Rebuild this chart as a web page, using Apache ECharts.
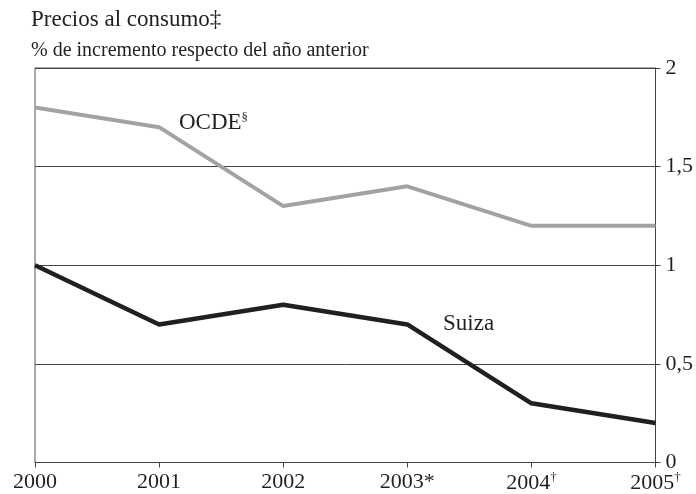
<!DOCTYPE html>
<html><head><meta charset="utf-8">
<script src="https://cdn.jsdelivr.net/npm/echarts@6/dist/echarts.min.js"></script>
<style>html,body{margin:0;padding:0;background:#fff}#c{width:696px;height:494px}</style>
</head><body><div id="c"></div>
<script>
const categories = ['2000','2001','2002','2003','2004','2005'];
const categorySuffix = ['','','','*','†','†'];
const ocde = [1.8, 1.7, 1.3, 1.4, 1.2, 1.2];
const suiza = [1.0, 0.7, 0.8, 0.7, 0.3, 0.2];
const yTicks = [0, 0.5, 1, 1.5, 2];

const chart = echarts.init(document.getElementById('c'));
const serif = '"Liberation Serif", "Times New Roman", serif';
const ink = '#231f20';
chart.setOption({
  animation: false,
  textStyle: {fontFamily: serif},
  grid: {left: 35, right: 39, top: 68, bottom: 29, show: true, borderColor: '#555', borderWidth: 1},
  xAxis: {
    type: 'category', data: categories, boundaryGap: false,
    axisLine: {lineStyle: {color: '#444', width: 1}},
    axisTick: {show: true, length: 5, interval: 0, lineStyle: {color: '#444'}},
    axisLabel: {
      interval: 0, showMinLabel: true, showMaxLabel: true,
      color: ink, fontSize: 22, fontFamily: serif, margin: 9,
      formatter: (v, i) => categorySuffix[i] === '†' ? '{a|' + v + '}{s|†}' : v + categorySuffix[i],
      rich: {a: {fontSize: 22, fontFamily: serif, color: ink}, s: {fontSize: 13, fontFamily: serif, color: ink, verticalAlign: 'top', padding: [0,0,10,0]}}
    },
    splitLine: {show: false}
  },
  yAxis: {
    type: 'value', position: 'right', min: yTicks[0], max: yTicks[yTicks.length-1], interval: 0.5,
    axisLine: {show: true, lineStyle: {color: '#444', width: 1}},
    axisTick: {show: true, length: 5, lineStyle: {color: '#444'}},
    axisLabel: {color: ink, fontSize: 22, fontFamily: serif, margin: 10,
      formatter: v => String(v).replace('.', ',')},
    splitLine: {show: true, lineStyle: {color: '#444', width: 1}}
  },
  series: [
    {name: 'OCDE', type: 'line', data: ocde, symbol: 'none', lineStyle: {color: '#a0a3a6', width: 4}},
    {name: 'Suiza', type: 'line', data: suiza, symbol: 'none', lineStyle: {color: ink, width: 4.5}}
  ],
  graphic: [
    {type: 'text', left: 31, top: 8, style: {text: 'Precios al consumo‡', font: '23px ' + serif, fill: ink}},
    {type: 'text', left: 31, top: 41, style: {text: '% de incremento respecto del año anterior', font: '20px ' + serif, fill: ink}},
    {type: 'text', left: 179, top: 111, style: {text: '{a|OCDE}{s|§}', rich: {a: {font: '23px ' + serif, fill: ink}, s: {font: '13px ' + serif, fill: ink, verticalAlign: 'top', padding: [0,0,10,0]}}}},
    {type: 'text', left: 443, top: 312, style: {text: 'Suiza', font: '23px ' + serif, fill: ink}}
  ]
});
</script></body></html>
